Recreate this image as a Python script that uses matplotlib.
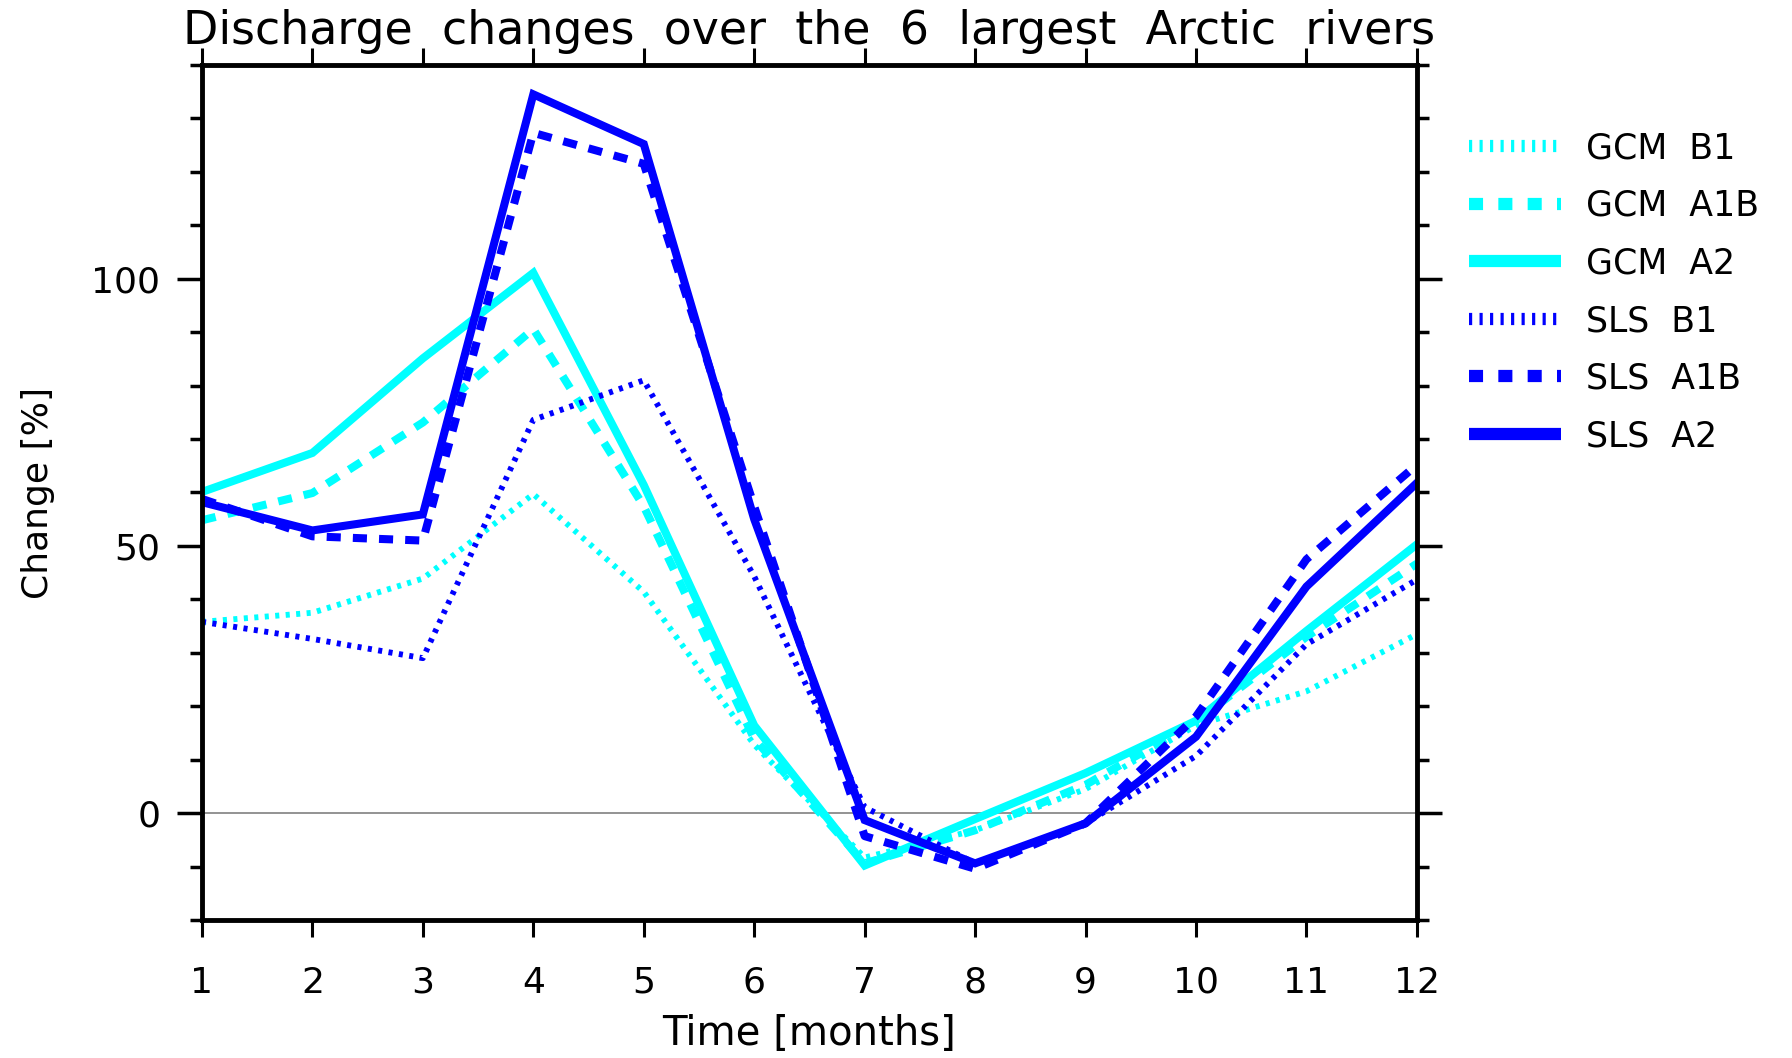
import matplotlib
matplotlib.use("Agg")
import matplotlib.pyplot as plt
from matplotlib.ticker import MultipleLocator

months = [1, 2, 3, 4, 5, 6, 7, 8, 9, 10, 11, 12]

gcm_b1 = [35.8, 37.5, 43.9, 59.7, 41.4, 12.8, -8.3, -3.2, 4.5, 16.4, 22.8, 33.5]
gcm_a1b = [54.8, 59.9, 73.1, 90.6, 57.4, 13.9, -9.4, -3.2, 5.3, 17.1, 33.0, 46.7]
gcm_a2 = [60.1, 67.4, 85.1, 101.1, 61.4, 16.4, -9.8, -1.1, 7.5, 17.3, 34.1, 50.3]
sls_b1 = [35.8, 32.6, 29.0, 73.6, 81.0, 44.3, 1.1, -9.4, -1.9, 10.7, 31.6, 43.7]
sls_a1b = [58.8, 51.8, 51.0, 127.3, 121.5, 57.4, -4.3, -10.4, -1.9, 18.1, 47.5, 65.2]
sls_a2 = [58.2, 52.9, 55.9, 134.5, 125.2, 55.0, -1.3, -9.4, -1.9, 14.3, 42.4, 61.8]

labels = ["GCM  B1", "GCM  A1B", "GCM  A2", "SLS  B1", "SLS  A1B", "SLS  A2"]
title = "Discharge  changes  over  the  6  largest  Arctic  rivers"
xlabel = "Time [months]"
ylabel = "Change [%]"

CYAN = "#00FFFF"
BLUE = "#0000FF"

plt.rcParams['font.family'] = ['DejaVu Sans']

fig = plt.figure(figsize=(17.92, 10.58), dpi=100)
ax = fig.add_axes([0.1127, 0.1304, 0.6780, 0.8082])

ax.axhline(0, color="#808080", lw=1.2, zorder=1)

dot = (0, (0.7, 1.1))
dash = (0, (1.75, 1.5))
series = [gcm_b1, gcm_a1b, gcm_a2, sls_b1, sls_a1b, sls_a2]
colors = [CYAN, CYAN, CYAN, BLUE, BLUE, BLUE]
styles = [dot, dash, '-', dot, dash, '-']
widths = [4.2, 5.8, 5.8, 4.2, 5.8, 5.8]
for vals, c, ls, lw, lab in zip(series, colors, styles, widths, labels):
    ax.plot(months, vals, color=c, linestyle=ls, lw=lw, label=lab,
            solid_joinstyle='miter', dash_capstyle='butt', zorder=2)

ax.set_xlim(1, 12)
ax.set_ylim(-20, 140)
ax.set_xticks(months)
ax.set_yticks([0, 50, 100])
ax.yaxis.set_minor_locator(MultipleLocator(10))

for s in ax.spines.values():
    s.set_linewidth(3.5)

ax.tick_params(axis='x', which='major', direction='out', length=12, width=2.2,
               top=True, bottom=True, labelsize=26, pad=21)
ax.tick_params(axis='y', which='major', direction='out', length=18, width=2.5,
               left=True, right=True, labelsize=26, pad=12)
ax.tick_params(axis='y', which='minor', direction='out', length=8.6, width=2.5,
               left=True, right=True)

ax.set_title(title, fontsize=33, pad=15)
ax.set_xlabel(xlabel, fontsize=29, labelpad=10)
ax.set_ylabel(ylabel, fontsize=26, labelpad=26)

leg = ax.legend(loc='upper left', bbox_to_anchor=(0.820, 0.876),
                bbox_transform=fig.transFigure, frameon=False, fontsize=25,
                handlelength=2.65, handletextpad=0.72, labelspacing=0.68,
                borderpad=0, borderaxespad=0)

# legend handles are drawn thicker than the plotted curves
leg_styles = [(0, (0.26, 0.6)), (0, (1.15, 1.25)), '-',
              (0, (0.26, 0.6)), (0, (1.15, 1.25)), '-']
for line, ls in zip(leg.get_lines(), leg_styles):
    line.set_linewidth(8.8)
    line.set_linestyle(ls)
    line.set_dash_capstyle('butt')
    line.set_solid_capstyle('butt')

fig.savefig("out.png", dpi=100)
